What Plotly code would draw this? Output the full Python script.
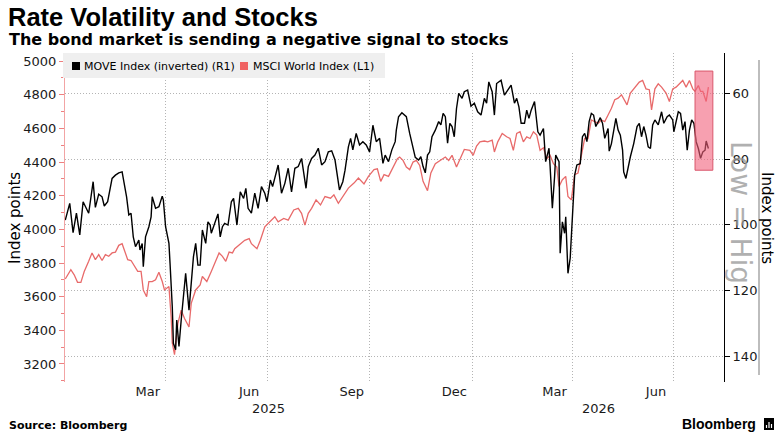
import pandas as pd
import plotly.graph_objects as go

# day offsets from 1 Jan 2025
BASE = pd.Timestamp("2025-01-01")

msci_day = [
    0, 5, 8, 11, 14, 17, 21, 24, 27, 30,
    33, 36, 39, 42, 45, 48, 51, 53, 56, 59,
    62, 65, 68, 70, 73, 75, 78, 81, 84, 87,
    89, 93, 95, 96, 98, 101, 104, 107, 111, 113,
    117, 121, 123, 127, 131, 135, 138, 141, 144, 147,
    150, 152, 157, 161, 165, 167, 172, 175, 179, 184,
    188, 191, 196, 200, 205, 209, 212, 215, 218, 221,
    225, 229, 233, 238, 241, 245, 250, 254, 259, 263,
    268, 272, 277, 280, 283, 286, 290, 293, 298, 300,
    303, 306, 309, 312, 315, 318, 321, 325, 328, 332,
    336, 341, 344, 347, 351, 354, 358, 363, 366, 369,
    372, 376, 379, 383, 385, 388, 392, 396, 399, 402,
    405, 408, 411, 414, 417, 420, 423, 426, 429, 432,
    435, 438, 441, 443, 446, 449, 451, 454, 457, 460,
    463, 466, 469, 472, 475, 478, 481, 484, 487, 490,
    493, 496, 499, 502, 504, 507, 511, 515, 518, 521,
    524, 526, 529, 532, 535, 539, 542, 545, 548, 551,
    554, 557, 560, 563, 565, 568, 570, 572, 575, 577,
]
msci_val = [
    3705, 3760, 3730, 3685, 3685, 3750, 3810, 3860, 3820, 3850,
    3815, 3850, 3840, 3860, 3865, 3905, 3915, 3875, 3820, 3815,
    3780, 3750, 3750, 3640, 3600, 3690, 3690, 3700, 3745, 3690,
    3640, 3660, 3480, 3325, 3255, 3440, 3520, 3470, 3420, 3560,
    3640, 3670, 3720, 3690, 3750, 3820, 3860, 3840, 3810, 3865,
    3860, 3885, 3915, 3935, 3945, 3915, 3885, 3935, 4015, 4045,
    4075, 4045, 4065, 4055, 4115, 4125, 4095, 4025, 4095, 4125,
    4175, 4145, 4195, 4185, 4205, 4155, 4205, 4245, 4275, 4305,
    4270, 4315, 4355, 4360, 4285, 4325, 4315, 4355, 4420, 4430,
    4410, 4370, 4355, 4400, 4410, 4380, 4285, 4230, 4335, 4390,
    4410, 4430, 4410, 4440, 4370, 4420, 4475, 4470, 4440, 4495,
    4520, 4525, 4520, 4530, 4460, 4520, 4570, 4550, 4540, 4470,
    4570, 4580, 4520, 4550, 4540, 4580, 4560, 4470, 4485, 4420,
    4440, 4390, 4370, 4255, 4295, 4315, 4195, 4175, 4325, 4335,
    4440, 4540, 4540, 4650, 4640, 4630, 4650, 4640, 4680, 4720,
    4770, 4780, 4800, 4760, 4740, 4810, 4845, 4875, 4885, 4835,
    4830, 4710, 4835, 4865, 4845, 4810, 4760, 4835, 4845, 4865,
    4885, 4845, 4885, 4835, 4820, 4855, 4820, 4820, 4760, 4845,
]

move_day = [
    0, 4, 7, 10, 13, 16, 21, 24, 25, 27,
    30, 33, 35, 38, 42, 45, 48, 51, 53, 55,
    57, 59, 61, 63, 66, 67, 69, 70, 72, 75,
    77, 78, 81, 84, 87, 88, 90, 93, 94, 96,
    97, 99, 100, 102, 104, 106, 108, 111, 113, 115,
    117, 119, 121, 123, 126, 128, 130, 131, 134, 137,
    139, 141, 143, 146, 149, 151, 154, 157, 160, 162,
    164, 167, 170, 173, 176, 179, 181, 184, 186, 188,
    191, 194, 197, 200, 203, 206, 209, 212, 214, 216,
    218, 221, 224, 227, 230, 233, 236, 239, 242, 244,
    246, 249, 251, 254, 256, 258, 261, 264, 267, 270,
    273, 276, 279, 282, 285, 287, 290, 293, 296, 297,
    299, 302, 306, 309, 311, 314, 317, 319, 321, 323,
    325, 327, 329, 332, 335, 337, 339, 341, 343, 345,
    347, 349, 351, 353, 356, 358, 361, 364, 367, 370,
    373, 376, 378, 380, 383, 385, 387, 391, 394, 397,
    400, 403, 405, 407, 409, 412, 414, 416, 418, 421,
    424, 426, 429, 431, 434, 435, 437, 439, 440, 443,
    444, 446, 448, 449, 451, 453, 455, 457, 459, 462,
    464, 466, 468, 470, 472, 474, 476, 478, 480, 482,
    484, 487, 488, 490, 492, 494, 496, 498, 500, 501,
    503, 505, 507, 510, 513, 515, 517, 519, 521, 523,
    525, 527, 529, 532, 534, 535, 537, 540, 542, 545,
    546, 548, 550, 552, 554, 556, 558, 560, 562, 564,
    566, 568, 570, 572, 574, 575, 577,
]
move_val = [
    98.6, 93.5, 102.4, 96.5, 103.1, 93.0, 96.5, 88.4, 86.9, 94.7,
    90.7, 91.5, 94.3, 93.0, 85.9, 84.9, 84.2, 83.9, 87.4, 91.5,
    97.0, 96.5, 103.7, 106.7, 104.7, 107.7, 105.7, 112.8, 103.7, 100.6,
    97.6, 91.5, 95.0, 94.5, 91.3, 92.5, 100.6, 105.7, 111.8, 125.0,
    136.1, 138.1, 129.0, 137.1, 129.0, 122.4, 114.8, 126.0, 117.8, 109.7,
    105.7, 112.3, 112.3, 101.6, 105.7, 99.1, 100.1, 102.6, 99.6, 96.7,
    103.7, 100.6, 99.6, 100.1, 93.0, 92.0, 100.1, 90.0, 92.0, 88.9,
    95.0, 96.5, 90.4, 95.0, 88.4, 90.4, 93.0, 86.4, 88.4, 85.4,
    81.8, 90.4, 87.4, 82.8, 90.0, 82.8, 82.3, 79.8, 84.4, 88.9,
    82.3, 79.8, 78.8, 76.7, 81.8, 80.8, 77.8, 77.5, 80.3, 84.9,
    89.4, 86.9, 83.4, 76.3, 73.7, 77.2, 72.2, 75.7, 74.7, 75.7,
    77.8, 69.7, 74.7, 73.7, 81.3, 78.8, 80.8, 77.2, 74.7, 71.2,
    67.1, 65.9, 67.1, 72.2, 75.2, 79.5, 80.3, 79.3, 82.3, 84.2,
    78.8, 77.8, 73.2, 71.2, 68.6, 69.6, 66.1, 67.1, 75.2, 69.1,
    70.1, 73.2, 64.6, 60.0, 61.5, 59.5, 59.0, 63.9, 63.0, 65.6,
    66.6, 61.5, 63.0, 56.5, 59.5, 66.6, 57.0, 56.0, 60.5, 59.0,
    57.5, 63.0, 61.5, 64.1, 69.1, 69.1, 65.1, 67.6, 65.1, 62.5,
    71.7, 72.7, 70.7, 80.8, 76.7, 82.3, 95.0, 85.4, 78.8, 80.8,
    108.7, 99.1, 102.6, 97.6, 114.8, 110.2, 96.0, 84.9, 81.8, 81.4,
    73.2, 72.2, 74.7, 68.6, 66.1, 66.6, 70.1, 68.6, 67.4, 69.1,
    73.7, 70.7, 77.6, 75.3, 71.2, 67.6, 71.2, 72.7, 77.3, 83.9,
    85.9, 82.3, 79.3, 75.3, 70.1, 69.1, 73.2, 70.1, 72.7, 76.3,
    76.8, 69.6, 68.1, 69.6, 66.6, 65.6, 69.1, 67.1, 66.6, 68.1,
    71.7, 68.1, 65.6, 66.1, 71.2, 68.6, 77.3, 71.2, 68.1, 69.1,
    74.7, 76.8, 79.8, 77.8, 77.3, 74.5, 76.8,
]

month_ticks = ["2025-03-16", "2025-06-15", "2025-09-15", "2025-12-16", "2026-03-16", "2026-06-15"]
month_text = ["Mar", "Jun", "Sep", "Dec", "Mar", "Jun"]
quarter_lines = ["2025-04-01", "2025-07-01", "2025-10-01", "2026-01-01", "2026-04-01", "2026-07-01"]
year_text = ["2025", "2026"]
year_pos = ["2025-07-02", "2026-04-24"]

# recent stretch picked out on the chart
hl_start, hl_end = "2026-07-20", "2026-08-05"
hl_low, hl_high = 53.2, 83.4

MSCI_RED = "#e86a6a"
FONT = "DejaVu Sans"

assert len(msci_day) == len(msci_val)
assert len(move_day) == len(move_val)
msci_dates = BASE + pd.to_timedelta(msci_day, unit="D")
move_dates = BASE + pd.to_timedelta(move_day, unit="D")

W, H = 780, 446
L, R, T, B = 65, 56, 53, 64
PW, PH = W - L - R, H - T - B


def px_x(x):
    return (x - L) / PW


def px_y(y):
    return (H - B - y) / PH


fig = go.Figure()
fig.add_trace(go.Scatter(
    x=msci_dates, y=msci_val, mode="lines", yaxis="y",
    line=dict(color=MSCI_RED, width=1.3), showlegend=False, name="MSCI World Index (L1)",
))
fig.add_trace(go.Scatter(
    x=move_dates, y=move_val, mode="lines", yaxis="y2",
    line=dict(color="black", width=1.4), showlegend=False, name="MOVE Index (inverted) (R1)",
))

grid = dict(gridcolor="#b4b4b4", griddash="1px,2px", gridwidth=1)
tickfont = dict(family=FONT, size=13, color="#1a1a1a")

fig.update_layout(
    width=W, height=H,
    margin=dict(l=L, r=R, t=T, b=B),
    paper_bgcolor="white", plot_bgcolor="white",
    showlegend=False,
    xaxis=dict(
        type="date", range=["2024-12-31 18:00", "2026-08-15"],
        tickmode="array", tickvals=month_ticks, ticktext=month_text,
        ticks="", showgrid=False, showline=False, zeroline=False,
        tickfont=tickfont,
        minor=dict(tickvals=quarter_lines, showgrid=True, ticks="", **grid),
    ),
    yaxis=dict(
        range=[3093, 5048], tickmode="linear", tick0=3200, dtick=200,
        ticks="outside", ticklen=5, tickcolor="#ee8080", tickwidth=1,
        showline=True, linecolor="#f2a4a4", linewidth=1,
        showgrid=False, zeroline=False, tickfont=tickfont,
        minor=dict(tick0=3100, dtick=100, ticks="outside", ticklen=3, tickcolor="#ee8080"),
    ),
    yaxis2=dict(
        overlaying="y", side="right", range=[147.9, 47.7],
        tickmode="linear", tick0=60, dtick=20,
        ticks="outside", ticklen=5, tickcolor="black",
        showline=True, linecolor="black", linewidth=1,
        showgrid=True, zeroline=False, tickfont=tickfont, **grid,
    ),
)

shapes = [
    # highlight box
    dict(type="rect", xref="x", yref="y2", x0=hl_start, x1=hl_end, y0=hl_low, y1=hl_high,
         fillcolor="rgba(242,97,123,0.6)", line=dict(color="#d9576b", width=1), layer="above"),
    # legend background and swatches
    dict(type="rect", xref="paper", yref="paper", x0=px_x(63), x1=px_x(385), y0=px_y(78), y1=px_y(53),
         fillcolor="#efefef", line=dict(width=0), layer="above"),
    dict(type="rect", xref="paper", yref="paper", x0=px_x(72), x1=px_x(80), y0=px_y(70), y1=px_y(62),
         fillcolor="black", line=dict(width=0), layer="above"),
    dict(type="rect", xref="paper", yref="paper", x0=px_x(240), x1=px_x(248), y0=px_y(70), y1=px_y(62),
         fillcolor="#f06262", line=dict(width=0), layer="above"),
    # grey bar beside the right axis title
    dict(type="line", xref="paper", yref="paper", x0=px_x(759), x1=px_x(759), y0=px_y(60), y1=px_y(375),
         line=dict(color="#bdbdbd", width=2)),
    # Bloomberg mark
    dict(type="rect", xref="paper", yref="paper", x0=px_x(764), x1=px_x(774), y0=px_y(430), y1=px_y(418),
         fillcolor="black", line=dict(width=0)),
]
for bx, top in [(766.5, 425), (769, 422), (771.5, 424)]:
    shapes.append(dict(type="line", xref="paper", yref="paper", x0=px_x(bx), x1=px_x(bx),
                       y0=px_y(428), y1=px_y(top), line=dict(color="white", width=1.2)))
fig.update_layout(shapes=shapes)


def note(text, x, y, size, xanchor="left", color="black", family=FONT, angle=0, **kw):
    fig.add_annotation(text=text, xref="paper", yref="paper", x=x, y=y, showarrow=False,
                       xanchor=xanchor, yanchor="middle", textangle=angle,
                       font=dict(family=family, size=size, color=color), **kw)


note("<b>Rate Volatility and Stocks</b>", px_x(6), px_y(16.5), 25.5, family="Liberation Sans")
note("<b>The bond market is sending a negative signal to stocks</b>", px_x(7), px_y(39.5), 16)
note("MOVE Index (inverted) (R1)", px_x(82), px_y(66), 11)
note("MSCI World Index (L1)", px_x(251), px_y(66), 11)
note("Index points", px_x(15), px_y(218), 15, xanchor="center", angle=-90)
note("Index points", px_x(767), px_y(218), 15, xanchor="center", angle=90)
note("Low = Hig", px_x(741), px_y(212), 28, xanchor="center", angle=90, color="rgba(150,150,150,0.75)")
note("<b>Source: Bloomberg</b>", px_x(7), px_y(426), 11)
note("<b>Bloomberg</b>", px_x(758), px_y(424), 14, xanchor="right", family="Liberation Sans")

for label, pos in zip(year_text, year_pos):
    fig.add_annotation(text=label, xref="x", yref="paper", x=pos, y=px_y(408), showarrow=False,
                       xanchor="center", yanchor="middle", font=tickfont)

# the page's default body margin would push the chart 8px down and right
fig.write_html("out.html", config={"displayModeBar": False},
               post_script="document.body.style.margin='0px';")
